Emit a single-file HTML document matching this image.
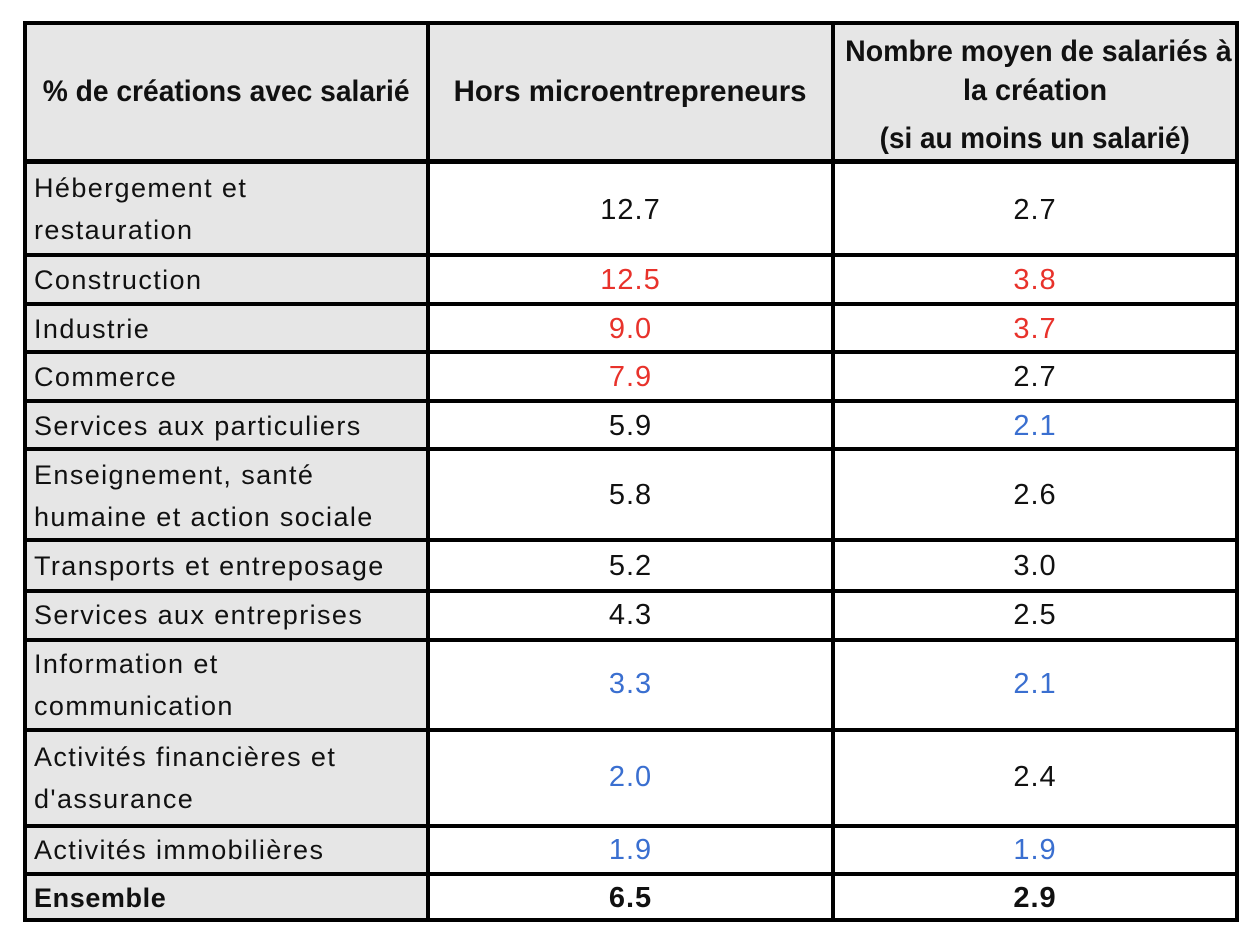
<!DOCTYPE html>
<html><head><meta charset="utf-8"><style>
body{margin:0;width:1258px;height:944px;background:#fff;position:relative;overflow:hidden;font-family:"Liberation Sans",sans-serif;}
.g{position:absolute;background:#e6e6e6;left:27px;width:399px;}
.h{position:absolute;background:#e6e6e6;}
.l{position:absolute;background:#000;}
.t{position:absolute;font-size:27px;letter-spacing:1.4px;color:#111;line-height:42px;white-space:nowrap;}
.c{position:absolute;font-size:29px;letter-spacing:1px;color:#111;text-align:center;white-space:nowrap;line-height:30px;}
.c1{left:430px;width:401px;}
.c2{left:835px;width:400px;}
.r{color:#e8322b}.b{color:#3a6fd0}
.hd{position:absolute;font-weight:bold;font-size:30px;text-align:center;white-space:nowrap;color:#111;line-height:36px;}
.hd span{display:inline-block;}
</style></head><body>
<div class="h" style="left:27px;top:25px;width:1208px;height:134px"></div>
<div class="g" style="top:164px;height:754px"></div>
<div class="l" style="left:23px;top:21px;width:1216px;height:4px"></div>
<div class="l" style="left:23px;top:159px;width:1216px;height:5px"></div>
<div class="l" style="left:23px;top:253px;width:1216px;height:4px"></div>
<div class="l" style="left:23px;top:302px;width:1216px;height:4px"></div>
<div class="l" style="left:23px;top:350px;width:1216px;height:4px"></div>
<div class="l" style="left:23px;top:399px;width:1216px;height:4px"></div>
<div class="l" style="left:23px;top:447px;width:1216px;height:4px"></div>
<div class="l" style="left:23px;top:538px;width:1216px;height:4px"></div>
<div class="l" style="left:23px;top:589px;width:1216px;height:4px"></div>
<div class="l" style="left:23px;top:638px;width:1216px;height:4px"></div>
<div class="l" style="left:23px;top:728px;width:1216px;height:4px"></div>
<div class="l" style="left:23px;top:824px;width:1216px;height:4px"></div>
<div class="l" style="left:23px;top:872px;width:1216px;height:4px"></div>
<div class="l" style="left:23px;top:918px;width:1216px;height:4px"></div>
<div class="l" style="left:23px;top:21px;width:4px;height:901px"></div>
<div class="l" style="left:426px;top:21px;width:4px;height:901px"></div>
<div class="l" style="left:831px;top:21px;width:4px;height:901px"></div>
<div class="l" style="left:1235px;top:21px;width:4px;height:901px"></div>
<div class="hd" style="left:27px;width:399px;top:74px"><span style="transform:scaleX(0.94)">% de créations avec salarié</span></div>
<div class="hd" style="left:430px;width:401px;top:74px"><span style="transform:scaleX(0.98)">Hors microentrepreneurs</span></div>
<div class="hd" style="left:835px;width:400px;top:34px"><span style="transform:scaleX(0.95)">Nombre moyen de salariés à</span></div>
<div class="hd" style="left:835px;width:400px;top:73px"><span style="transform:scaleX(0.96)">la création</span></div>
<div class="hd" style="left:835px;width:400px;top:121px"><span style="transform:scaleX(0.93)">(si au moins un salarié)</span></div>
<div class="t" style="left:34px;top:167px">Hébergement et<br>restauration</div>
<div class="t" style="left:34px;top:259px">Construction</div>
<div class="t" style="left:34px;top:308px">Industrie</div>
<div class="t" style="left:34px;top:356px">Commerce</div>
<div class="t" style="left:34px;top:405px">Services aux particuliers</div>
<div class="t" style="left:34px;top:454px">Enseignement, santé<br>humaine et action sociale</div>
<div class="t" style="left:34px;top:545px">Transports et entreposage</div>
<div class="t" style="left:34px;top:594px">Services aux entreprises</div>
<div class="t" style="left:34px;top:643px">Information et<br>communication</div>
<div class="t" style="left:34px;top:736px">Activités financières et<br>d'assurance</div>
<div class="t" style="left:34px;top:829px">Activités immobilières</div>
<div class="t" style="left:34px;top:877px;font-weight:bold;letter-spacing:0.6px">Ensemble</div>
<div class="c c1" style="top:195px">12.7</div><div class="c c2" style="top:195px">2.7</div>
<div class="c c1 r" style="top:265px">12.5</div><div class="c c2 r" style="top:265px">3.8</div>
<div class="c c1 r" style="top:314px">9.0</div><div class="c c2 r" style="top:314px">3.7</div>
<div class="c c1 r" style="top:362px">7.9</div><div class="c c2" style="top:362px">2.7</div>
<div class="c c1" style="top:411px">5.9</div><div class="c c2 b" style="top:411px">2.1</div>
<div class="c c1" style="top:480px">5.8</div><div class="c c2" style="top:480px">2.6</div>
<div class="c c1" style="top:551px">5.2</div><div class="c c2" style="top:551px">3.0</div>
<div class="c c1" style="top:600px">4.3</div><div class="c c2" style="top:600px">2.5</div>
<div class="c c1 b" style="top:669px">3.3</div><div class="c c2 b" style="top:669px">2.1</div>
<div class="c c1 b" style="top:762px">2.0</div><div class="c c2" style="top:762px">2.4</div>
<div class="c c1 b" style="top:835px">1.9</div><div class="c c2 b" style="top:835px">1.9</div>
<div class="c c1" style="top:883px;font-weight:bold">6.5</div><div class="c c2" style="top:883px;font-weight:bold">2.9</div>
</body></html>
